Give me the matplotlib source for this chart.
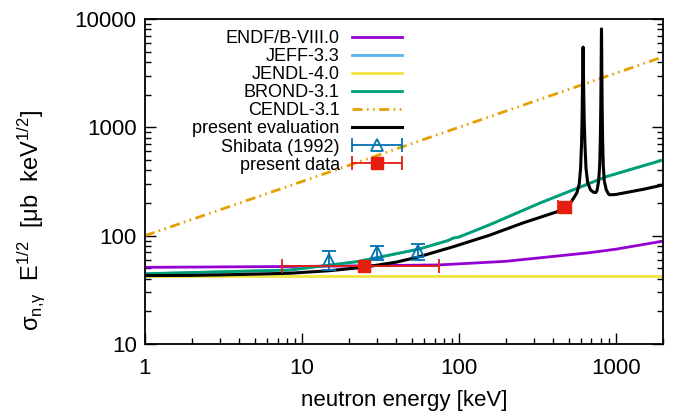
import numpy as np
import matplotlib
matplotlib.use("Agg")
import matplotlib.pyplot as plt
from matplotlib.legend_handler import HandlerErrorbar

plt.rcParams['font.family'] = ['Liberation Sans', 'DejaVu Sans']
plt.rcParams['mathtext.fontset'] = 'custom'
plt.rcParams['mathtext.rm'] = 'Liberation Sans'
plt.rcParams['mathtext.it'] = 'Liberation Sans'

# evaluated libraries, energy in keV
endf_e = [1, 10, 75, 200, 684, 1000, 2000]
endf_v = [51, 52, 53.7, 58, 69.7, 75, 89]

brond_e = [1, 8.4, 22.4, 55, 85, 92, 100, 157, 326, 873, 2000]
brond_v = [44.5, 48.2, 57.5, 74.8, 90, 95, 97, 126, 199, 351, 500]

# JEFF-3.3 lies under BROND-3.1 in the picture
jeff_e = brond_e
jeff_v = brond_v

jendl_e = [1, 2000]
jendl_v = [42, 42]

cendl_e = [1, 10, 100, 1000, 2000]
cendl_v = [100, 316, 1000, 3162, 4472]

# present evaluation with the two resonances
pres_e = [1, 2, 4, 8.4, 15, 24.5, 40, 55, 92, 157, 256, 421, 473, 520, 565,
          585, 597, 605, 610, 614, 617, 619, 621, 624, 629, 636, 646, 662, 690, 720, 746,
          760, 778, 790, 798, 803, 807, 809.5, 811, 812.5, 815, 819, 824, 832, 845,
          870, 900, 916, 1000, 1500, 2000]
pres_v = [42.8, 43, 43.8, 45, 47.5, 51, 57, 63.5, 79, 101, 131, 166, 180, 205, 248,
          300, 420, 700, 1200, 2500, 4500, 5500, 4500, 2500, 1200, 700, 420, 310, 265, 252, 250,
          262, 320, 450, 800, 1600, 3500, 6500, 8100, 6500, 3500, 1600, 800, 450, 320,
          265, 242, 238, 240, 268, 294]

# Shibata (1992)
shib_e = [14.9, 29.9, 55]
shib_v = [60, 70, 72]
shib_err = [12, 10, 12]

# present data
data_e = [24.8, 473]
data_v = [52.5, 182]
data_elo = [17.3, 45]
data_ehi = [49.8, 45]

labels = ['ENDF/B-VIII.0', 'JEFF-3.3', 'JENDL-4.0', 'BROND-3.1', 'CENDL-3.1',
          'present evaluation', 'Shibata (1992)', 'present data']

fig = plt.figure(figsize=(6.83, 4.16), dpi=100)
ax = fig.add_axes([145 / 683, 1 - 344 / 416, 518 / 683, 325 / 416])

lw = 2.0
h1, = ax.plot(endf_e, endf_v, color='#9400d3', lw=lw, label=labels[0])
h2, = ax.plot(jeff_e, jeff_v, color='#56b4e9', lw=lw, label=labels[1])
h3, = ax.plot(jendl_e, jendl_v, color='#f0e442', lw=lw, label=labels[2])
h4, = ax.plot(brond_e, brond_v, color='#009e73', lw=lw, label=labels[3])
h5, = ax.plot(cendl_e, cendl_v, color='#e69f00', lw=lw, label=labels[4],
              linestyle=(0, (3.6, 1.6, 0.6, 1.6, 0.6, 1.6)))
h6, = ax.plot(pres_e, pres_v, color='black', lw=2.2, label=labels[5])

ax.errorbar(shib_e, shib_v, yerr=shib_err, fmt='^', color='#0072b2', mfc='none',
            ms=8, mew=1.3, elinewidth=1.3, capsize=5, capthick=1.3, zorder=5)
h7 = ax.errorbar([np.nan], [np.nan], xerr=[1], fmt='^', color='#0072b2', mfc='none',
                 ms=8, mew=1.3, elinewidth=1.3, capsize=5, capthick=1.3, label=labels[6])
h8 = ax.errorbar(data_e, data_v, xerr=[data_elo, data_ehi], fmt='s', color='#e51e10',
                 ms=9, elinewidth=1.3, capsize=5, capthick=1.3, zorder=6, label=labels[7])

ax.set_xscale('log')
ax.set_yscale('log')
ax.set_xlim(1, 2000)
ax.set_ylim(10, 10000)

ax.set_xticks([1, 10, 100, 1000])
ax.set_xticklabels(['1', '10', '100', '1000'])
ax.set_yticks([10, 100, 1000, 10000])
ax.set_yticklabels(['10', '100', '1000', '10000'])

ax.tick_params(axis='x', which='both', direction='in', top=False, bottom=True,
               labelsize=16, pad=10)
ax.tick_params(axis='y', which='both', direction='in', left=True, right=True,
               labelsize=16, pad=6)
ax.tick_params(which='major', length=8, width=1)
ax.tick_params(which='minor', length=4.5, width=1)
for s in ax.spines.values():
    s.set_linewidth(1.3)

ax.set_xlabel('neutron energy [keV]', fontsize=16, labelpad=8)
ax.set_ylabel(r'σ$_{\mathrm{n{,}γ}}$  E$^{1/2}$  [μb  keV$^{1/2}$]', fontsize=17)
ax.yaxis.set_label_coords(-0.19, 0.38)

hm = {h7: HandlerErrorbar(xerr_size=1.39), h8: HandlerErrorbar(xerr_size=1.39)}
ax.legend([h1, h2, h3, h4, h5, h6, h7, h8], labels, loc='upper right',
          bbox_to_anchor=(402 / 683, 1 - 30 / 416), bbox_transform=fig.transFigure,
          frameon=False, markerfirst=False, fontsize=13, numpoints=1,
          handlelength=2.78, handletextpad=0.67, labelspacing=0.06,
          borderpad=0, borderaxespad=0, handler_map=hm)

fig.savefig('out.png', dpi=100)
